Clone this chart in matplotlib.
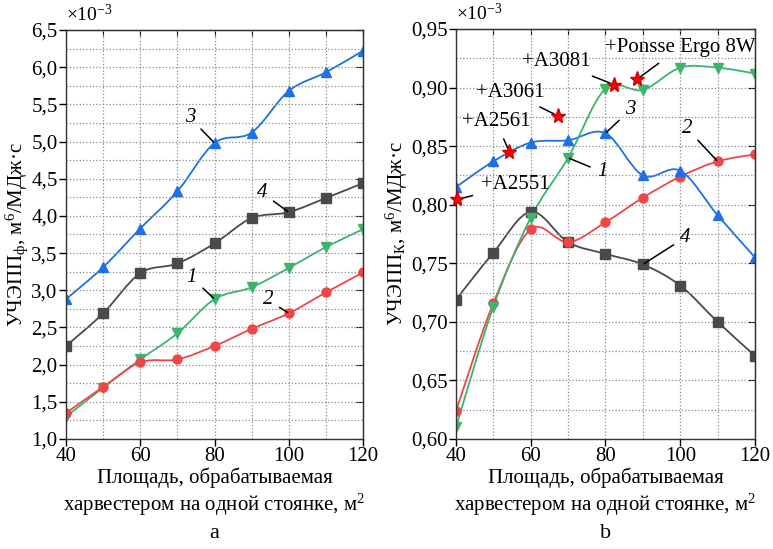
import matplotlib
matplotlib.use("Agg")
import matplotlib.pyplot as plt
import numpy as np
from matplotlib.path import Path
from matplotlib.patches import PathPatch
from matplotlib.ticker import MultipleLocator, FuncFormatter

FONT = 'Liberation Serif'
plt.rcParams['font.family'] = 'serif'
plt.rcParams['font.serif'] = [FONT, 'DejaVu Serif']
plt.rcParams['mathtext.default'] = 'regular'
plt.rcParams['font.size'] = 14

# площадь, м2
area = [40, 50, 60, 70, 80, 90, 100, 110, 120]

# panel a, values x1e-3
a_curve1 = [1.30, 1.69, 2.07, 2.42, 2.88, 3.04, 3.30, 3.58, 3.82]
a_curve2 = [1.35, 1.70, 2.03, 2.07, 2.25, 2.48, 2.69, 2.97, 3.24]
a_curve3 = [2.88, 3.31, 3.83, 4.33, 4.98, 5.12, 5.68, 5.93, 6.22]
a_curve4 = [2.25, 2.69, 3.23, 3.36, 3.63, 3.97, 4.05, 4.24, 4.44]

# panel b, values x1e-3
b_curve1 = [0.610, 0.713, 0.789, 0.840, 0.899, 0.898, 0.917, 0.917, 0.912]
b_curve2 = [0.624, 0.716, 0.779, 0.768, 0.785, 0.806, 0.824, 0.837, 0.843]
b_curve3 = [0.815, 0.837, 0.853, 0.855, 0.861, 0.825, 0.829, 0.791, 0.755]
b_curve4 = [0.719, 0.759, 0.794, 0.768, 0.758, 0.749, 0.731, 0.700, 0.671]

# real harvesters
machines = ['A2551', 'A2561', 'A3061', 'A3081', 'Ponsse Ergo 8W']
machine_x = [40.4, 54.3, 67.2, 82.2, 88.4]
machine_y = [0.8045, 0.845, 0.876, 0.9026, 0.907]

BLUE = '#1f6fe6'
GREEN = '#3cb46e'
RED = '#f04646'
GRAY = '#4a4a4a'


def smooth_line(ax, x, y, color):
    # Catmull-Rom curve through the points, drawn as bezier path in data coords
    x = np.asarray(x, float)
    y = np.asarray(y, float)
    px = np.concatenate([[x[0]], x, [x[-1]]])
    py = np.concatenate([[y[0]], y, [y[-1]]])
    verts = [(x[0], y[0])]
    codes = [Path.MOVETO]
    for i in range(1, len(px) - 2):
        c1 = (px[i] + (px[i + 1] - px[i - 1]) / 6, py[i] + (py[i + 1] - py[i - 1]) / 6)
        c2 = (px[i + 1] - (px[i + 2] - px[i]) / 6, py[i + 1] - (py[i + 2] - py[i]) / 6)
        verts += [c1, c2, (px[i + 1], py[i + 1])]
        codes += [Path.CURVE4] * 3
    ax.add_patch(PathPatch(Path(verts, codes), fill=False, edgecolor=color, lw=1.3))


def plot_series(ax, y, color, marker):
    smooth_line(ax, area, y, color)
    ax.plot(area, y, linestyle='none', marker=marker, color=color, markersize=6.5)


def style_axis(ax, ymin, ymax, ymaj, fmt):
    ax.set_xlim(40, 120)
    ax.set_ylim(ymin, ymax)
    ax.xaxis.set_major_locator(MultipleLocator(20))
    ax.xaxis.set_minor_locator(MultipleLocator(10))
    ax.yaxis.set_major_locator(MultipleLocator(ymaj))
    ax.yaxis.set_minor_locator(MultipleLocator(ymaj / 2))
    ax.yaxis.set_major_formatter(FuncFormatter(lambda v, p: fmt.format(v).replace('.', ',')))
    ax.grid(which='both', linestyle=':', color='#8c8c8c', lw=0.9)
    ax.tick_params(which='major', direction='out', length=5, width=1, labelsize=15,
                   labelfontfamily=FONT, pad=1)
    ax.tick_params(which='minor', direction='out', length=0)
    for s in ax.spines.values():
        s.set_color('#333333')
        s.set_linewidth(1.0)
    sy = ax.secondary_yaxis('right')
    sy.yaxis.set_major_locator(MultipleLocator(ymaj))
    sy.tick_params(direction='in', length=5, labelright=False)
    sx = ax.secondary_xaxis('top')
    sx.xaxis.set_major_locator(MultipleLocator(10))
    sx.tick_params(direction='in', length=4, labeltop=False)
    ax.set_xlabel('Площадь, обрабатываемая\nхарвестером на одной стоянке, м$^{2}$',
                  fontsize=15, family=FONT, linespacing=1.2, labelpad=1)
    ax.text(0.0, 1.012, r'$\times 10^{-3}$', transform=ax.transAxes,
            fontsize=14, ha='left', va='bottom', family=FONT)


def label_curve(ax, text, xy, xytext):
    ax.annotate(text, xy=xy, xytext=xytext, fontsize=15, style='italic', family=FONT,
                ha='center', va='center',
                arrowprops=dict(arrowstyle='-', color='black', lw=1.1, shrinkA=3, shrinkB=1))


fig = plt.figure(figsize=(7.73, 5.49), dpi=100)
ax1 = fig.add_axes([0.0854, 0.2004, 0.3842, 0.745])
ax2 = fig.add_axes([0.5899, 0.2004, 0.3868, 0.7468])

# panel a
plot_series(ax1, a_curve3, BLUE, '^')
plot_series(ax1, a_curve4, GRAY, 's')
plot_series(ax1, a_curve1, GREEN, 'v')
plot_series(ax1, a_curve2, RED, 'o')
style_axis(ax1, 1.0, 6.5, 0.5, '{:.1f}')
ax1.set_ylabel('УЧЭПП$_{ф}$, м$^{6}$/МДж·с', fontsize=15, family=FONT, labelpad=1)
label_curve(ax1, '3', (80, 4.98), (73.4, 5.32))
label_curve(ax1, '4', (100, 4.05), (92.8, 4.31))
label_curve(ax1, '1', (80, 2.88), (73.9, 3.17))
label_curve(ax1, '2', (100, 2.69), (94.4, 2.87))

# panel b
plot_series(ax2, b_curve4, GRAY, 's')
plot_series(ax2, b_curve2, RED, 'o')
plot_series(ax2, b_curve3, BLUE, '^')
plot_series(ax2, b_curve1, GREEN, 'v')
style_axis(ax2, 0.60, 0.95, 0.05, '{:.2f}')
ax2.set_ylabel('УЧЭПП$_{К}$, м$^{6}$/МДж·с', fontsize=15, family=FONT, labelpad=1)
label_curve(ax2, '3', (80, 0.861), (86.6, 0.881))
label_curve(ax2, '1', (70, 0.840), (79.1, 0.828))
label_curve(ax2, '2', (110, 0.837), (101.8, 0.865))
label_curve(ax2, '4', (90, 0.749), (101.3, 0.772))

ax2.plot(machine_x, machine_y, linestyle='none', marker='*', color='red',
         markeredgecolor='#cc0000', markersize=11, clip_on=False, zorder=5)
machine_text = [(55.8, 0.817), (50.7, 0.871), (54.4, 0.896), (66.8, 0.922), (99.9, 0.934)]
for name, mx, my, tpos in zip(machines, machine_x, machine_y, machine_text):
    ax2.annotate('+' + name, xy=(mx, my), xytext=tpos, fontsize=15, family=FONT,
                 ha='center', va='center',
                 arrowprops=dict(arrowstyle='-', color='black', lw=1.1, shrinkA=4, shrinkB=3))

fig.text(0.2775, 0.029, 'а', fontsize=16, ha='center', va='center', family=FONT)
fig.text(0.7833, 0.029, 'b', fontsize=16, ha='center', va='center', family=FONT)

fig.savefig('out.png', dpi=100)
